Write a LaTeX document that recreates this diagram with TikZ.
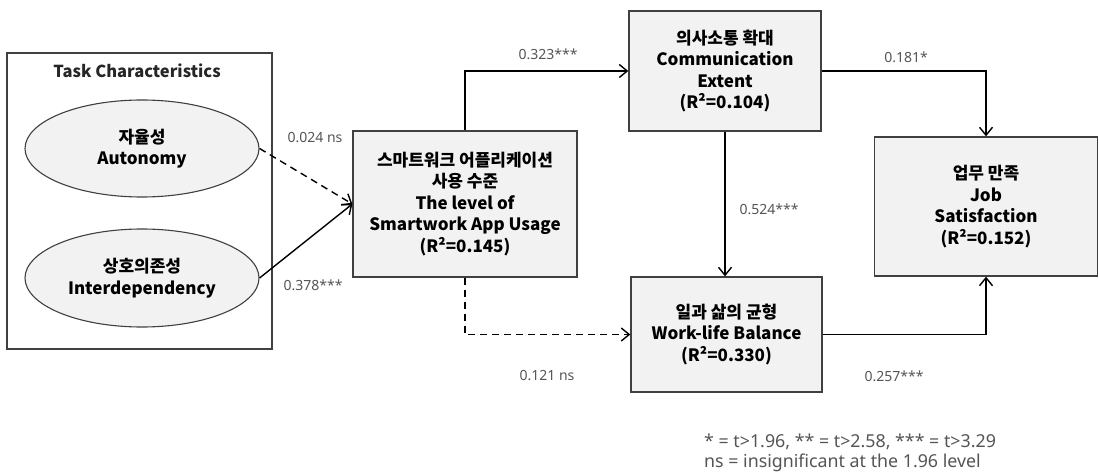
\documentclass[tikz,border=0pt]{standalone}
\usepackage{fontspec}
\setmainfont{Noto Sans CJK KR}
\newfontfamily\lblfont{Noto Sans}
\usetikzlibrary{arrows.meta,shapes.geometric}
\definecolor{boxfill}{HTML}{F2F2F2}
\definecolor{boxline}{HTML}{404040}
\definecolor{lblgray}{HTML}{555555}
\tikzset{
  box/.style={draw=boxline, line width=1.3pt, fill=boxfill, rectangle, align=center,
    font=\fontsize{17}{21.5}\selectfont\bfseries, inner sep=0pt},
  oval/.style={draw=boxline, line width=1.1pt, fill=boxfill, ellipse, align=center,
    font=\fontsize{17}{21.5}\selectfont\bfseries, inner sep=0pt},
  frame/.style={draw=boxline, line width=1.1pt, rectangle, inner sep=0pt},
  lbl/.style={text=lblgray, font=\lblfont\fontsize{14}{18}\selectfont, inner sep=0pt},
  conn/.style={line width=1.4pt, black, -{Straight Barb[length=8pt,width=13pt,line width=1.4pt]}},
  nsconn/.style={conn, dash pattern=on 7pt off 5pt}
}
\begin{document}
\begin{tikzpicture}[x=1pt,y=-1pt]
\useasboundingbox[fill=white] (0,0) rectangle (1099,473);
% frame
\node[frame, minimum width=265pt, minimum height=296pt] (task) at (139.5,201) {};
\node[font=\fontsize{16.5}{20}\selectfont\bfseries, text=black!85, inner sep=0pt] (title) at (137,71) {Task Characteristics};
\node[oval, minimum width=234pt, minimum height=97pt] (aut) at (142,148.5) {자율성\\Autonomy};
\node[oval, minimum width=234pt, minimum height=98pt] (int) at (142,278) {상호의존성\\Interdependency};
% boxes
\node[box, minimum width=224pt, minimum height=146pt] (smart) at (465,204)
  {스마트워크 어플리케이션\\사용 수준\\The level of\\Smartwork App Usage\\(R²=0.145)};
\node[box, minimum width=192pt, minimum height=120pt] (comm) at (725,71)
  {의사소통 확대\\Communication\\Extent\\(R²=0.104)};
\node[box, minimum width=191pt, minimum height=115pt] (wl) at (726.5,334.5)
  {일과 삶의 균형\\Work-life Balance\\(R²=0.330)};
\node[box, minimum width=223pt, minimum height=139pt] (job) at (986,206.5)
  {업무 만족\\Job\\Satisfaction\\(R²=0.152)};
% connectors
\draw[nsconn] (aut.east) -- (smart.west);
\draw[conn] (int.east) -- (smart.west);
\draw[conn] (smart.north) |- (comm.west);
\draw[nsconn] (smart.south) |- (wl.west);
\draw[conn] (comm.south) -- (comm.south |- wl.north);
\draw[conn] (comm.east) -| (job.north);
\draw[conn] (wl.east) -| (job.south);
% labels
\node[lbl] (l1) at (315,138) {0.024 ns};
\node[lbl] (l2) at (313,285) {0.378***};
\node[lbl] (l3) at (548,54) {0.323***};
\node[lbl] (l4) at (547,376) {0.121 ns};
\node[lbl] (l5) at (769,209) {0.524***};
\node[lbl] (l6) at (906,57) {0.181*};
\node[lbl] (l7) at (894,376) {0.257***};
\node[lbl, anchor=west, align=left, font=\lblfont\fontsize{17.8}{20.5}\selectfont] (note) at (704,453)
  {* = t>1.96, ** = t>2.58, *** = t>3.29\\ns = insignificant at the 1.96 level};
\end{tikzpicture}
\end{document}
